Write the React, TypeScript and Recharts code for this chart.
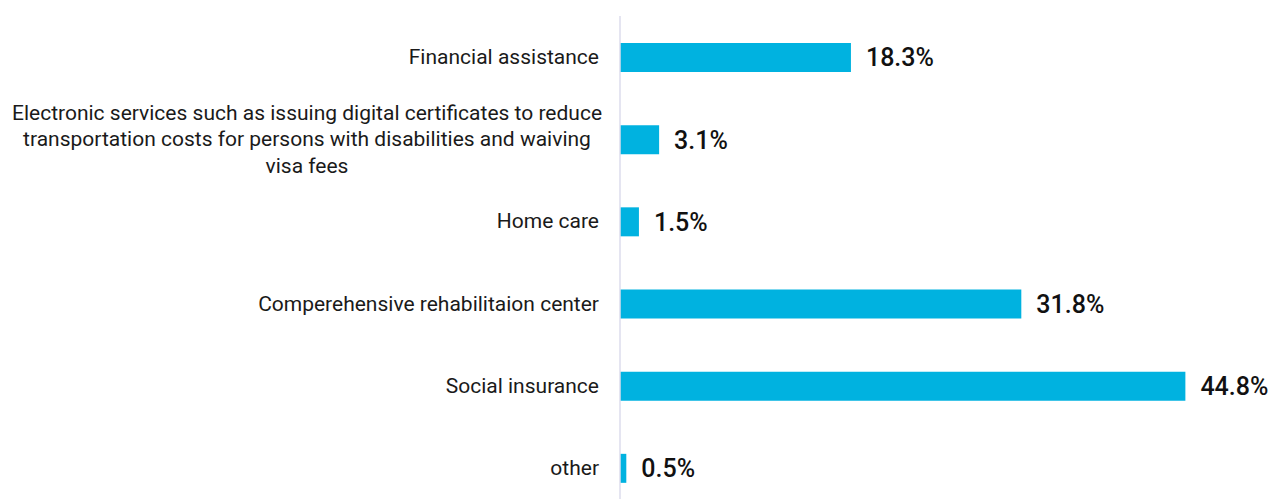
import React from 'react';
import { BarChart, Bar, XAxis, YAxis, LabelList } from 'recharts';

const categories = [
    'Financial assistance',
    'Electronic services such as issuing digital certificates to reduce\ntransportation costs for persons with disabilities and waiving\nvisa fees',
    'Home care',
    'Comperehensive rehabilitaion center',
    'Social insurance',
    'other',
];
const values = [18.3, 3.1, 1.5, 31.8, 44.8, 0.5];

const data = categories.map((name, i) => ({ name, value: values[i] }));

const FONT = 'Roboto, "Liberation Sans", sans-serif';

const CategoryTick = (props: any) => {
    const { x, y, payload } = props;
    const lines = String(payload.value).split('\n');
    const lineHeight = 26.5;
    const gap = 21;
    const top = y - ((lines.length - 1) * lineHeight) / 2;
    const multi = lines.length > 1;
    const blockWidth = 588;
    const tx = multi ? x - gap - blockWidth / 2 + 2 : x - gap;
    return (
        <text
            x={tx}
            y={top}
            textAnchor={multi ? 'middle' : 'end'}
            dominantBaseline="central"
            fill="#1a1a1a"
            fontSize={21}
            fontFamily={FONT}
        >
            {lines.map((line, i) => (
                <tspan key={i} x={tx} dy={i === 0 ? 0 : lineHeight}>
                    {line}
                </tspan>
            ))}
        </text>
    );
};

export default function App() {
    return (
        <div style={{ position: 'absolute', left: 0, top: 0, width: 1277, height: 499, overflow: 'hidden', background: '#fff' }}>
            <BarChart
                width={1277}
                height={520}
                data={data}
                layout="vertical"
                margin={{ top: 16, right: 26, bottom: 11, left: 0 }}
                barSize={29}
            >
                <XAxis type="number" domain={[0, 50]} hide />
                <YAxis
                    type="category"
                    dataKey="name"
                    width={620}
                    axisLine={{ stroke: '#dcdcec', strokeWidth: 1.5 }}
                    tickLine={false}
                    tickSize={0}
                    tickMargin={0}
                    tick={<CategoryTick />}
                    interval={0}
                />
                <Bar dataKey="value" fill="#00b2e0" isAnimationActive={false}>
                    <LabelList
                        dataKey="value"
                        position="right"
                        offset={15}
                        formatter={(v: any) => `${Number(v).toFixed(1)}%`}
                        fill="#111"
                        fontSize={25}
                        fontWeight={500}
                        fontFamily={FONT}
                    />
                </Bar>
            </BarChart>
        </div>
    );
}
